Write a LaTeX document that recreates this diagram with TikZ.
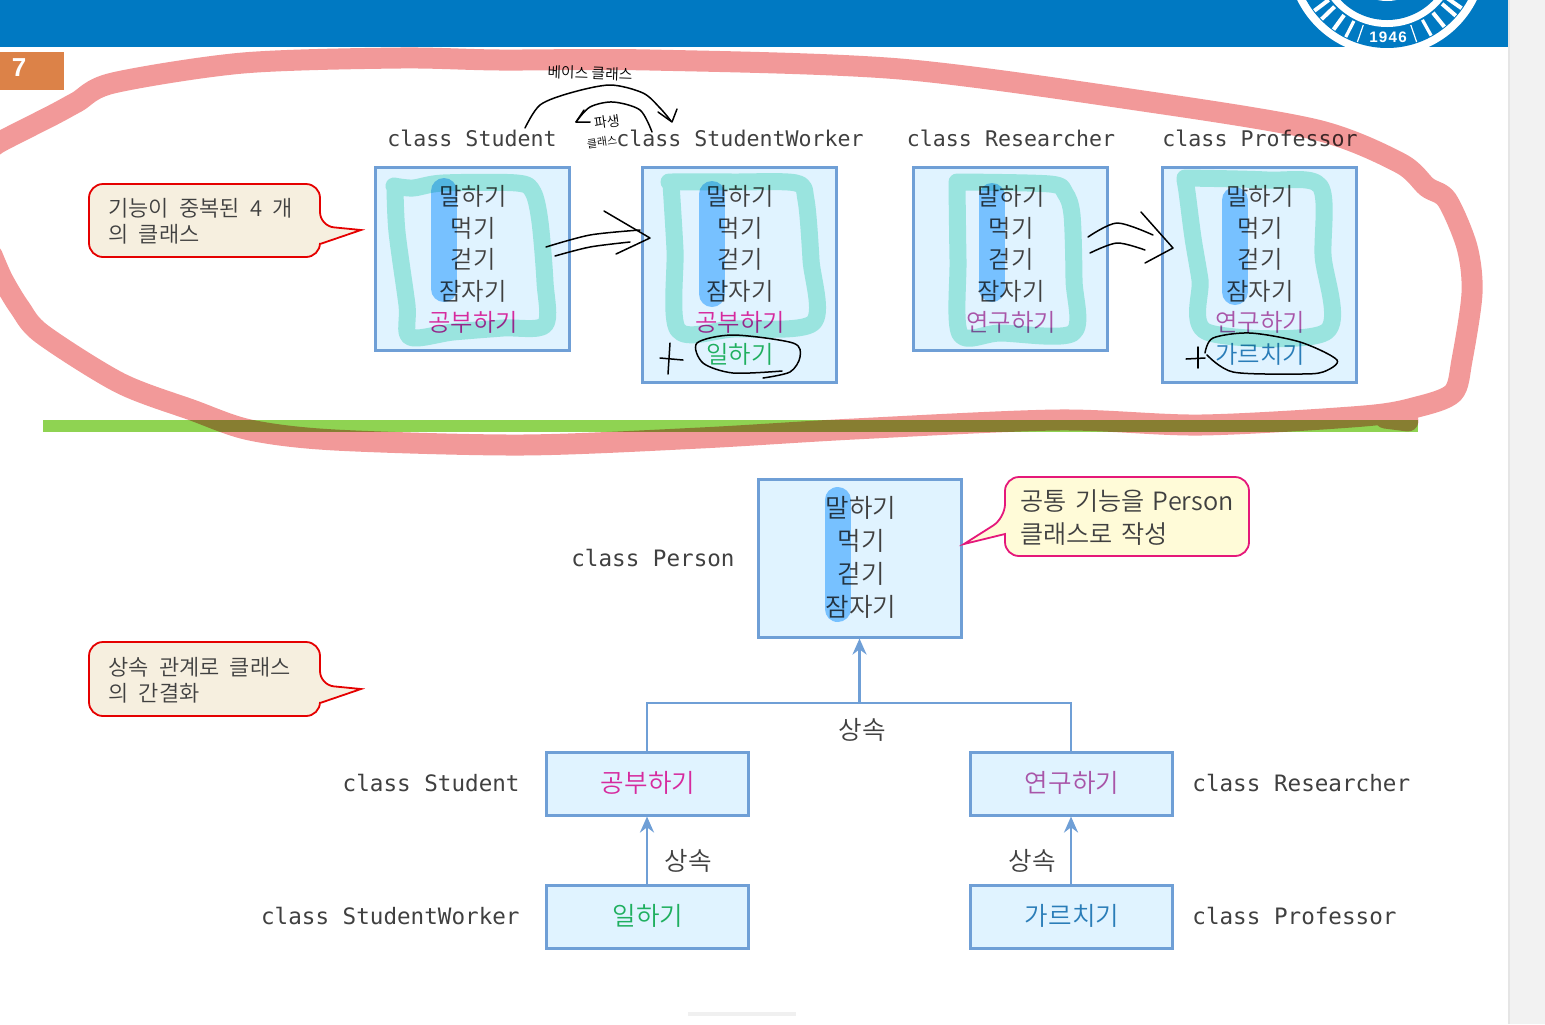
\documentclass[tikz,border=0pt]{standalone}
\usepackage{fontspec}
\setmainfont{Liberation Sans}
\newfontfamily\kor{Noto Sans CJK KR DemiLight}
\newfontfamily\code{DejaVu Sans Mono}
\usetikzlibrary{arrows.meta, positioning}
\newcommand{\widegaps}{\spaceskip=.46em\relax}
\newcommand{\midgaps}{\spaceskip=.33em\relax}

\definecolor{headblue}{HTML}{0079C2}
\definecolor{pageorange}{HTML}{DC8248}
\definecolor{boxline}{HTML}{6F9FD6}
\definecolor{boxfill}{HTML}{E0F3FF}
\definecolor{inktext}{HTML}{404040}
\definecolor{pinkword}{HTML}{D62A9E}
\definecolor{purpleword}{HTML}{A855A8}
\definecolor{greenword}{HTML}{1FAF5F}
\definecolor{blueword}{HTML}{2A7DB8}
\definecolor{penred}{HTML}{F29999}
\definecolor{penteal}{HTML}{B0F0DF}
\definecolor{penblue}{HTML}{88CBFF}
\definecolor{barsgreen}{HTML}{8FD352}
\definecolor{notecream}{HTML}{F6EFDF}
\definecolor{noteyellow}{HTML}{FFFBD8}
\definecolor{notepink}{HTML}{E5187A}

\tikzset{
  classbox/.style={draw=boxline, line width=1.5pt, fill=boxfill, inner sep=0pt, minimum width=97pt},
  item/.style={inner sep=0pt, yshift=-1pt, text=inktext, text height=.85em, text depth=.1em, font=\kor\fontsize{12.2}{14}\selectfont},
  bigitem/.style={item, xshift=.5pt, yshift=0pt, font=\kor\fontsize{12.8}{14}\selectfont},
  classname/.style={inner sep=0pt, yshift=.5pt, text=inktext, font=\code\fontsize{10.8}{13}\selectfont},
  bigname/.style={classname, yshift=-.5pt, font=\code\fontsize{11.3}{13}\selectfont},
  link/.style={draw=boxline, line width=1.35pt},
  redcall/.style={draw=red!90!black, line width=.9pt, fill=notecream},
  pinkcall/.style={draw=notepink, line width=.9pt, fill=noteyellow},
  calltext/.style={inner sep=0pt, anchor=west, align=left, yshift=-.5pt, text=inktext, font=\kor\fontsize{11}{13}\selectfont},
  tealpen/.style={draw=penteal, line width=8.5pt, line cap=round, line join=round, blend mode=multiply},
  bluepen/.style={draw=penblue, line width=13pt, line cap=round, blend mode=multiply},
  hand/.style={draw=black, line width=.75pt, line cap=round, line join=round}
}

\begin{document}
\begin{tikzpicture}[x=0.5pt, y=-0.5pt]
  \useasboundingbox (0,0) rectangle (1545,1024);

  % page frame
  \fill[gray!10] (1508,0) rectangle (1545,1024);
  \fill[gray!20] (1508,0) rectangle (1510,1024);
  \fill[headblue] (0,0) rectangle (1508,47);
  \fill[gray!12] (688,1012) rectangle (796,1016);

  % seal in the header
  \begin{scope}
    \clip (0,0) rectangle (1508,47);
    \coordinate (seal) at (1387,-44);
    \fill[white] (seal) circle[radius=50pt];
    \fill[headblue] (seal) circle[radius=46pt];
    \fill[white] (seal) circle[radius=35.5pt];
    \fill[headblue] (seal) circle[radius=32pt];
    \fill[white] (seal) circle[radius=22.5pt];
    \foreach \ang/\wid in {-143/2, -136/2, -126/2, -117/1.6, -109/.6, -71/.6, -61/1.6, -51/2, -41/2, -35/2}
      \draw[white, line width=\wid pt] (seal) ++(\ang:36.5pt) -- ++(\ang:9pt);
  \end{scope}
  \node[inner sep=0pt, text=white, font=\bfseries\fontsize{7.6}{8}\selectfont, rotate=0] (year) at (1388,37.5) {\addfontfeature{LetterSpace=8}1946};

  \node[fill=pageorange, minimum width=32pt, minimum height=19pt, inner sep=0pt] (pagebox) at (31.5,71) {};
  \node[inner sep=0pt, text=white, font=\bfseries\fontsize{13}{15}\selectfont] (pagenum) at (19,68) {7};

  \fill[barsgreen] (43,420) rectangle (1418,432);

  % upper row of classes
  \node[classbox, minimum height=91.5pt] (student) at (472,258.5) {};
  \node[classbox, minimum height=107.5pt] (worker) at (739,274.5) {};
  \node[classbox, minimum height=91.5pt] (researcher) at (1010.5,258.5) {};
  \node[classbox, minimum height=107.5pt] (professor) at (1259.5,274.5) {};

  \node[classname] (studentname) at (472,139) {class Student};
  \node[classname] (workername) at (740,139) {class StudentWorker};
  \node[classname] (researchername) at (1011,139) {class Researcher};
  \node[classname] (professorname) at (1260,139) {class Professor};

  \foreach \who/\cx in {student/473, worker/740, researcher/1011, professor/1260}
    \foreach \word [count=\i] in {말하기, 먹기, 걷기, 잠자기}
      \node[item] (\who\i) at (\cx,{196+31.7*(\i-1)}) {\word};

  \node[item, text=pinkword] (study) at (473,322) {공부하기};
  \node[item, text=pinkword] (study2) at (740,322) {공부하기};
  \node[item, text=greenword] (job) at (740,354) {일하기};
  \node[item, text=purpleword] (research) at (1011,322) {연구하기};
  \node[item, text=purpleword] (research2) at (1260,322) {연구하기};
  \node[item, text=blueword] (teach) at (1260,354) {가르치기};

  % upper note
  \draw[redcall] (320,226) -- (361,230) -- (320,244) [rounded corners=7pt] -- (320,257) -- (89,257) -- (89,184) -- (320,184) -- cycle;
  \node[calltext] (noteone) at (108,220) {\widegaps 기능이 중복된 4 개\\\widegaps 의 클래스};

  % lower tree
  \node[classbox, minimum width=101.5pt, minimum height=79pt] (person) at (859.5,558) {};
  \foreach \word [count=\i] in {말하기, 먹기, 걷기, 잠자기}
    \node[bigitem] (person\i) at (860,{508+33*(\i-1)}) {\word};
  \node[bigname, anchor=east] (personname) at (735,558) {class Person};

  \node[classbox, minimum width=101pt, minimum height=31.5pt] (substudent) at (647,783.5) {};
  \node[classbox, minimum width=101pt, minimum height=31.5pt] (subresearcher) at (1071,783.5) {};
  \node[classbox, minimum width=101pt, minimum height=31.5pt] (subworker) at (647,916.5) {};
  \node[classbox, minimum width=101pt, minimum height=31.5pt] (subprofessor) at (1071,916.5) {};

  \node[bigitem, text=pinkword] (substudy) at (647,783) {공부하기};
  \node[bigitem, text=purpleword] (subresearch) at (1071,783) {연구하기};
  \node[bigitem, text=greenword] (subjob) at (647,916) {일하기};
  \node[bigitem, text=blueword] (subteach) at (1071,916) {가르치기};

  \node[bigname, anchor=east] (substudentname) at (520,783) {class Student};
  \node[bigname, anchor=east] (subworkername) at (520,916) {class StudentWorker};
  \node[bigname, anchor=west] (subresearchername) at (1192,783) {class Researcher};
  \node[bigname, anchor=west] (subprofessorname) at (1192,916) {class Professor};

  \coordinate (join) at (859.5,703);
  \draw[link] (substudent.north) |- (join) -| (subresearcher.north);
  \draw[link, -{Stealth[length=8pt, width=7pt]}] (join) -- (person.south);
  \draw[link, -{Stealth[length=8pt, width=7pt]}] (subworker.north) -- (substudent.south);
  \draw[link, -{Stealth[length=8pt, width=7pt]}] (subprofessor.north) -- (subresearcher.south);

  \node[bigitem] (inherit) at (861,730) {상속};
  \node[bigitem] (inheritleft) at (687,861) {상속};
  \node[bigitem] (inheritright) at (1031,861) {상속};

  % lower notes
  \draw[redcall] (320,685) -- (361,689) -- (320,703) [rounded corners=7pt] -- (320,716) -- (89,716) -- (89,642) -- (320,642) -- cycle;
  \node[calltext] (notetwo) at (108,679) {\widegaps 상속 관계로 클래스\\\widegaps 의 간결화};
  \draw[pinkcall] (1005,518) -- (964,544) -- (1005,534) [rounded corners=7pt] -- (1005,556) -- (1249,556) -- (1249,477) -- (1005,477) -- cycle;
  \node[calltext, font=\kor\fontsize{12.6}{16.5}\selectfont] (notethree) at (1020,517) {\midgaps 공통 기능을 Person\\\midgaps 클래스로 작성};

  % marker strokes
  \draw[bluepen] (444,191) -- (444,289);
  \draw[bluepen] (712,194) -- (712,294);
  \draw[bluepen] (992,196) -- (992,289);
  \draw[bluepen] (1235,200) -- (1235,292);
  \draw[bluepen] (837.5,500) -- (837.5,609);

  \draw[tealpen] plot[smooth] coordinates {(394,186) (413,188) (443,183) (517,183) (533,192) (540,222) (545,282) (545,325) (503,328) (453,332) (410,337) (407,305) (397,232) (395,188)};
  \draw[tealpen] plot[smooth] coordinates {(669,182) (733,182) (796,183) (806,200) (811,260) (813,323) (733,329) (678,330) (675,250) (671,184)};
  \draw[tealpen] plot[smooth] coordinates {(957,182) (1050,184) (1065,193) (1072,215) (1074,280) (1073,333) (1000,333) (960,334) (958,260) (957,184)};
  \draw[tealpen] plot[smooth] coordinates {(1185,178) (1267,180) (1320,186) (1323,255) (1326,332) (1207,332) (1200,280) (1193,238) (1187,192) (1185,180)};

  % pen notes
  \draw[hand] plot[smooth] coordinates {(525,128) (540,105) (570,93) (610,85) (643,93) (660,108) (671,121)};
  \draw[hand] (658,112) -- (672,122) -- (677,109);
  \draw[hand] plot[smooth] coordinates {(652,132) (640,110) (613,102) (590,107) (576,122)};
  \draw[hand] (584,110) -- (576,122) -- (590,122);
  \node[inner sep=0pt, font=\kor\fontsize{7.4}{8}\selectfont, rotate=-2] (basenote) at (590,73) {베이스 클래스};
  \node[inner sep=0pt, font=\kor\fontsize{7}{8}\selectfont, rotate=8] (derivednote) at (607,122) {파생};
  \node[inner sep=0pt, font=\kor\fontsize{5.5}{8}\selectfont, rotate=8] (derivedtwo) at (602,142) {클래스};

  \draw[hand] plot[smooth] coordinates {(546,247) (590,235) (640,230)};
  \draw[hand] plot[smooth] coordinates {(555,256) (590,247) (630,242)};
  \draw[hand] (604,211) -- (650,238) -- (616,254);
  \draw[hand] plot[smooth] coordinates {(1088,237) (1117,223) (1153,235)};
  \draw[hand] plot[smooth] coordinates {(1090,253) (1117,243) (1145,250)};
  \draw[hand] (1141,212) -- (1173,248) -- (1145,263);

  \draw[hand] (660,358) -- (683,360);
  \draw[hand] (670,343) -- (668,374);
  \draw[hand] plot[smooth] coordinates {(763,378) (790,372) (800,357) (793,343) (733,335) (697,343) (703,363) (733,373) (782,371)};
  \draw[hand] (1186,359) -- (1205,358);
  \draw[hand] (1198,347) -- (1198,368);
  \draw[hand] plot[smooth] coordinates {(1205,353) (1213,338) (1250,333) (1300,342) (1337,360) (1323,372) (1297,374) (1233,372) (1207,355)};

  % the big loop
  \draw[draw=penred, line width=10.5pt, line cap=round, line join=round, blend mode=multiply]
    plot[smooth] coordinates {(-8,255) (3,280) (20,308) (42,334) (120,383) (192,410) (250,430) (335,440) (522,445) (700,438) (854,429) (1058,420) (1201,425) (1364,416) (1417,407) (1453,393) (1462,360) (1472,293) (1467,247) (1447,200) (1427,187) (1400,163) (1317,130) (1150,102) (900,69) (650,60) (500,60) (400,58) (243,63) (113,83) (77,102) (53,115) (0,142) (-10,150)}
    (1385,418) -- (1408,421);
\end{tikzpicture}
\end{document}
